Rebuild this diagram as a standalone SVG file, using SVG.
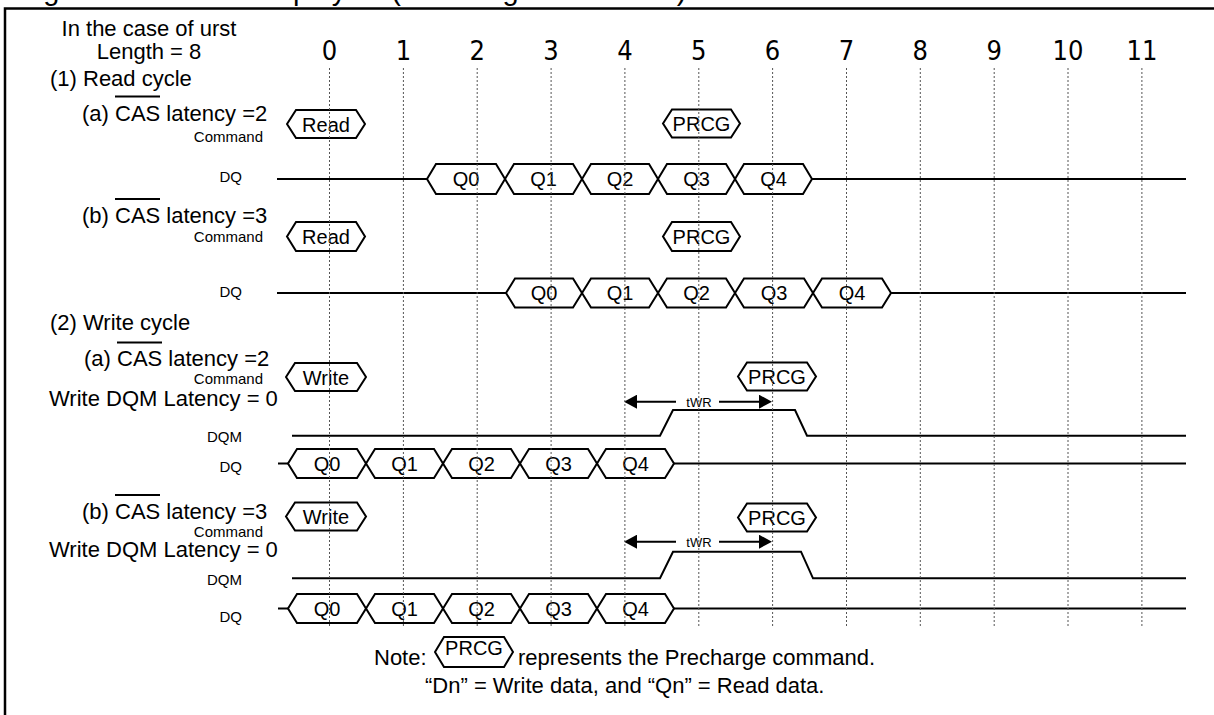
<svg xmlns="http://www.w3.org/2000/svg" width="1214" height="715" viewBox="0 0 1214 715">
<style>
.t{font-family:"Liberation Sans",Arial,sans-serif;fill:#000}
.lbl{font-size:22px}
.sm{font-size:15px;text-anchor:end}
.hx{fill:none;stroke:#000;stroke-width:2;stroke-linejoin:miter}
.hxt{font-size:20px;text-anchor:middle}
.wave{fill:none;stroke:#000;stroke-width:2}
.ovl{stroke:#000;stroke-width:1.8}
.grid{stroke:#555;stroke-width:1;stroke-dasharray:2 2}
.num{font-family:"Liberation Sans Narrow","DejaVu Sans Condensed","Liberation Sans",sans-serif;font-size:27px;text-anchor:middle;fill:#000}
.tw{font-size:13px;text-anchor:middle}
</style>
<defs>
<marker id="ah" viewBox="0 0 13 14" refX="7" refY="7" markerWidth="13" markerHeight="14" markerUnits="userSpaceOnUse" orient="auto">
<path d="M0,0 L13,7 L0,14 z" fill="#000"/>
</marker>
</defs>
<rect width="1214" height="715" fill="#fff"/>
<text class="t" x="19" y="0" font-size="29">Figure 10.2 Burst Stop cycle (Precharge Command)</text>
<rect id="frame" x="5" y="8.5" width="1400" height="900" fill="none" stroke="#000" stroke-width="2.5"/>

<g id="labels" class="t">
<text class="lbl" x="149" y="36" text-anchor="middle" font-size="21">In the case of urst</text>
<text class="lbl" x="149" y="59" text-anchor="middle">Length = 8</text>
<text class="lbl" x="50" y="85.5">(1) Read cycle</text>
<text class="lbl" x="82" y="120.5">(a) CAS latency =2</text>
<line class="ovl" x1="115" y1="96.5" x2="160" y2="96.5"/>
<text class="sm" x="263" y="141.5">Command</text>
<text class="sm" x="242" y="181.5">DQ</text>
<text class="lbl" x="82" y="223">(b) CAS latency =3</text>
<line class="ovl" x1="115" y1="199" x2="160" y2="199"/>
<text class="sm" x="263" y="242">Command</text>
<text class="sm" x="242" y="296.5">DQ</text>
<text class="lbl" x="50" y="329.5">(2) Write cycle</text>
<text class="lbl" x="84" y="365.5">(a) CAS latency =2</text>
<line class="ovl" x1="117" y1="342.5" x2="162" y2="342.5"/>
<text class="sm" x="263" y="384">Command</text>
<text class="lbl" x="49" y="406">Write DQM Latency = 0</text>
<text class="sm" x="242" y="441.5">DQM</text>
<text class="sm" x="242" y="472">DQ</text>
<text class="lbl" x="82" y="519">(b) CAS latency =3</text>
<line class="ovl" x1="115" y1="495" x2="160" y2="495"/>
<text class="sm" x="263" y="537">Command</text>
<text class="lbl" x="49" y="556.5">Write DQM Latency = 0</text>
<text class="sm" x="242" y="584.5">DQM</text>
<text class="sm" x="242" y="622">DQ</text>
</g>

<g id="clock-numbers">
<text class="num" x="329.5" y="60">0</text>
<text class="num" x="403.4" y="60">1</text>
<text class="num" x="477.2" y="60">2</text>
<text class="num" x="551.1" y="60">3</text>
<text class="num" x="624.9" y="60">4</text>
<text class="num" x="698.8" y="60">5</text>
<text class="num" x="772.6" y="60">6</text>
<text class="num" x="846.5" y="60">7</text>
<text class="num" x="920.3" y="60">8</text>
<text class="num" x="994.2" y="60">9</text>
<text class="num" x="1068" y="60">10</text>
<text class="num" x="1141.9" y="60">11</text>
</g>

<g id="connectors">
<path class="wave" d="M277,179 H427 M812,179 H1186"/>
<path class="wave" d="M277,293 H506 M891,293 H1186"/>
<path class="wave" d="M292,435.7 H660 L673,410 H795 L807,435.7 H1186"/>
<path class="wave" d="M278,463.5 H288 M674,463.5 H1186"/>
<path class="wave" d="M292,578.3 H660 L673,551.7 H801 L813,578.3 H1186"/>
<path class="wave" d="M278,608.5 H288 M674,608.5 H1186"/>
<path class="wave" d="M676,401.7 H630" marker-end="url(#ah)"/>
<path class="wave" d="M719,401.7 H766" marker-end="url(#ah)"/>
<text class="t tw" x="699" y="406.5">tWR</text>
<path class="wave" d="M676,541.7 H630" marker-end="url(#ah)"/>
<path class="wave" d="M719,541.7 H766" marker-end="url(#ah)"/>
<text class="t tw" x="699" y="546.5">tWR</text>
</g>

<g id="cmd-read-a"><polygon class="hx" points="287,124 296,110 356,110 365,124 356,138 296,138"/><text class="t hxt" x="326" y="131.5">Read</text></g>
<g id="cmd-prcg-ra"><polygon class="hx" points="663,123.5 672,109.5 731,109.5 740,123.5 731,137.5 672,137.5"/><text class="t hxt" x="701.5" y="131">PRCG</text></g>
<g id="cmd-read-b"><polygon class="hx" points="287,236.5 296,222 356,222 365,236.5 356,251 296,251"/><text class="t hxt" x="326" y="244">Read</text></g>
<g id="cmd-prcg-rb"><polygon class="hx" points="663,236.5 672,222 731,222 740,236.5 731,251 672,251"/><text class="t hxt" x="701.5" y="244">PRCG</text></g>
<g id="cmd-write-a"><polygon class="hx" points="286,377 295,363 357,363 366,377 357,391 295,391"/><text class="t hxt" x="326" y="384.5">Write</text></g>
<g id="cmd-prcg-wa"><polygon class="hx" points="738,376.5 747,362.5 807,362.5 816,376.5 807,390.5 747,390.5"/><text class="t hxt" x="777" y="384">PRCG</text></g>
<g id="cmd-write-b"><polygon class="hx" points="286,516.5 295,502.5 357,502.5 366,516.5 357,530.5 295,530.5"/><text class="t hxt" x="326" y="524">Write</text></g>
<g id="cmd-prcg-wb"><polygon class="hx" points="738,517.5 747,503.5 807,503.5 816,517.5 807,531.5 747,531.5"/><text class="t hxt" x="777" y="525">PRCG</text></g>

<g id="dq-read-a">
<polygon class="hx" points="427,179 436,164 496,164 505,179 496,194 436,194"/><text class="t hxt" x="466" y="186">Q0</text>
<polygon class="hx" points="505,179 514,164 573,164 582,179 573,194 514,194"/><text class="t hxt" x="543.5" y="186">Q1</text>
<polygon class="hx" points="582,179 591,164 649,164 658,179 649,194 591,194"/><text class="t hxt" x="620" y="186">Q2</text>
<polygon class="hx" points="658,179 667,164 726,164 735,179 726,194 667,194"/><text class="t hxt" x="696.5" y="186">Q3</text>
<polygon class="hx" points="735,179 744,164 803,164 812,179 803,194 744,194"/><text class="t hxt" x="773.5" y="186">Q4</text>
</g>
<g id="dq-read-b">
<polygon class="hx" points="506,293 515,278.5 573,278.5 582,293 573,307.5 515,307.5"/><text class="t hxt" x="544" y="300">Q0</text>
<polygon class="hx" points="582,293 591,278.5 649,278.5 658,293 649,307.5 591,307.5"/><text class="t hxt" x="620" y="300">Q1</text>
<polygon class="hx" points="658,293 667,278.5 726,278.5 735,293 726,307.5 667,307.5"/><text class="t hxt" x="696.5" y="300">Q2</text>
<polygon class="hx" points="735,293 744,278.5 804,278.5 813,293 804,307.5 744,307.5"/><text class="t hxt" x="774" y="300">Q3</text>
<polygon class="hx" points="813,293 822,278.5 882,278.5 891,293 882,307.5 822,307.5"/><text class="t hxt" x="852" y="300">Q4</text>
</g>
<g id="dq-write-a">
<polygon class="hx" points="288,463.5 297,449 357,449 366,463.5 357,478 297,478"/><text class="t hxt" x="327" y="470.5">Q0</text>
<polygon class="hx" points="366,463.5 375,449 434,449 443,463.5 434,478 375,478"/><text class="t hxt" x="404.5" y="470.5">Q1</text>
<polygon class="hx" points="443,463.5 452,449 511,449 520,463.5 511,478 452,478"/><text class="t hxt" x="481.5" y="470.5">Q2</text>
<polygon class="hx" points="520,463.5 529,449 588,449 597,463.5 588,478 529,478"/><text class="t hxt" x="558.5" y="470.5">Q3</text>
<polygon class="hx" points="597,463.5 606,449 665,449 674,463.5 665,478 606,478"/><text class="t hxt" x="635.5" y="470.5">Q4</text>
</g>
<g id="dq-write-b">
<polygon class="hx" points="288,608.5 297,594 357,594 366,608.5 357,623 297,623"/><text class="t hxt" x="327" y="615.5">Q0</text>
<polygon class="hx" points="366,608.5 375,594 434,594 443,608.5 434,623 375,623"/><text class="t hxt" x="404.5" y="615.5">Q1</text>
<polygon class="hx" points="443,608.5 452,594 511,594 520,608.5 511,623 452,623"/><text class="t hxt" x="481.5" y="615.5">Q2</text>
<polygon class="hx" points="520,608.5 529,594 588,594 597,608.5 588,623 529,623"/><text class="t hxt" x="558.5" y="615.5">Q3</text>
<polygon class="hx" points="597,608.5 606,594 665,594 674,608.5 665,623 606,623"/><text class="t hxt" x="635.5" y="615.5">Q4</text>
</g>

<g id="clock-grid">
<line class="grid" x1="329.5" y1="68" x2="329.5" y2="628"/>
<line class="grid" x1="403.4" y1="68" x2="403.4" y2="628"/>
<line class="grid" x1="477.2" y1="68" x2="477.2" y2="628"/>
<line class="grid" x1="551.1" y1="68" x2="551.1" y2="628"/>
<line class="grid" x1="624.9" y1="68" x2="624.9" y2="628"/>
<line class="grid" x1="698.8" y1="68" x2="698.8" y2="628"/>
<line class="grid" x1="772.6" y1="68" x2="772.6" y2="628"/>
<line class="grid" x1="846.5" y1="68" x2="846.5" y2="628"/>
<line class="grid" x1="920.3" y1="68" x2="920.3" y2="628"/>
<line class="grid" x1="994.2" y1="68" x2="994.2" y2="628"/>
<line class="grid" x1="1068" y1="68" x2="1068" y2="628"/>
<line class="grid" x1="1141.9" y1="68" x2="1141.9" y2="628"/>
</g>

<g id="note" class="t">
<text class="lbl" x="374" y="665">Note:</text>
<polygon class="hx" points="435,652 444,637 504,637 513,652 504,667 444,667"/>
<text class="hxt" x="474" y="655">PRCG</text>
<text class="lbl" x="518" y="665">represents the Precharge command.</text>
<text class="lbl" x="425" y="693">“Dn” = Write data, and “Qn” = Read data.</text>
</g>
</svg>
